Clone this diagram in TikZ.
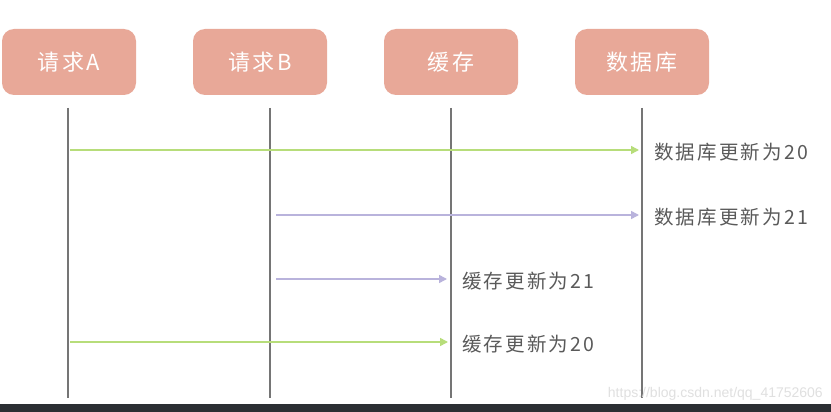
\documentclass[tikz,border=0pt]{standalone}
\usepackage{fontspec}
\newfontfamily\cjk[LetterSpace=11]{Noto Sans CJK SC}
\setsansfont{Liberation Sans}
\usetikzlibrary{arrows.meta}
\definecolor{boxc}{HTML}{E8A898}
\definecolor{linec}{HTML}{757575}
\definecolor{greenc}{HTML}{B7DD7A}
\definecolor{purplec}{HTML}{B9B3DC}
\definecolor{textc}{HTML}{5A5A5A}
\definecolor{barc}{HTML}{2B2F33}
\tikzset{
  actor/.style={fill=boxc, rounded corners=12pt, minimum width=134pt, minimum height=66pt, text=white, font=\cjk\fontsize{22}{26}\selectfont, inner sep=0pt},
  life/.style={draw=linec, line width=2pt},
  msg/.style={line width=1.6pt, -{Triangle[length=8pt,width=8pt]}},
  lbl/.style={anchor=west, text=textc, font=\cjk\fontsize{19.5}{22}\selectfont, inner sep=0pt},
}
\begin{document}
\begin{tikzpicture}[x=1pt,y=-1pt]
\useasboundingbox (0,0) rectangle (831,412);
\fill[white] (0,0) rectangle (831,412);
\fill[barc] (0,404) rectangle (831,412);
\node[actor] (A) at (69,62) {请求A};
\node[actor] (B) at (260,62) {请求B};
\node[actor] (C) at (451,62) {缓存};
\node[actor] (D) at (642,62) {数据库};
\coordinate (At) at (68,108); \coordinate (Ab) at (68,398);
\coordinate (Bt) at (270,108); \coordinate (Bb) at (270,398);
\coordinate (Ct) at (451,108); \coordinate (Cb) at (451,398);
\coordinate (Dt) at (642,108); \coordinate (Db) at (642,398);
\draw[life] (At) -- (Ab);
\draw[life] (Bt) -- (Bb);
\draw[life] (Ct) -- (Cb);
\draw[life] (Dt) -- (Db);
\coordinate (a1) at (70,150); \coordinate (d1) at (639,150);
\coordinate (b2) at (276,215); \coordinate (d2) at (639,215);
\coordinate (b3) at (276,279); \coordinate (c3) at (447,279);
\coordinate (a4) at (70,342); \coordinate (c4) at (448,342);
\draw[msg, greenc] (a1) -- (d1);
\draw[msg, purplec] (b2) -- (d2);
\draw[msg, purplec] (b3) -- (c3);
\draw[msg, greenc] (a4) -- (c4);
\node[lbl] (l1) at (654,152) {数据库更新为20};
\node[lbl] (l2) at (654,217) {数据库更新为21};
\node[lbl] (l3) at (462,281) {缓存更新为21};
\node[lbl] (l4) at (462,344) {缓存更新为20};
\node[anchor=east, text=black!12, font=\sffamily\fontsize{14}{16}\selectfont, inner sep=0pt] (wm) at (823,394) {https://blog.csdn.net/qq\_41752606};
\end{tikzpicture}
\end{document}
